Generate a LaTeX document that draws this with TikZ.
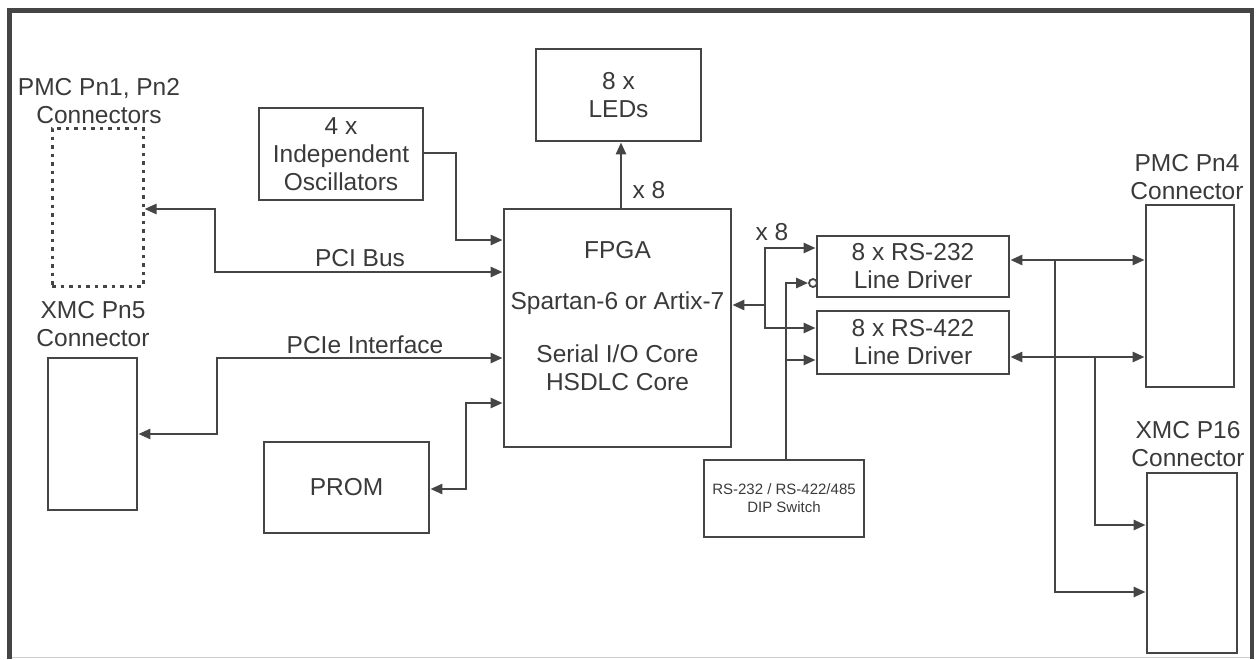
\documentclass[tikz,border=0pt]{standalone}
\usepackage{fontspec}
\setmainfont{Liberation Sans}
\usetikzlibrary{arrows.meta}
\definecolor{ln}{HTML}{454545}
\definecolor{tx}{HTML}{3a3a3a}
\tikzset{
  box/.style={draw=ln, line width=2.8pt, inner sep=0pt, text=tx, align=center,
    font=\fontsize{24.5}{28}\selectfont},
  lbl/.style={text=tx, align=center, inner sep=0pt, font=\fontsize{24.5}{28}\selectfont},
  small/.style={font=\fontsize{15}{18}\selectfont},
  wire/.style={draw=ln, line width=2.6pt},
  tip/.style={-{Triangle[length=12pt,width=10pt]}},
  dtip/.style={{Triangle[length=12pt,width=10pt]}-{Triangle[length=12pt,width=10pt]}},
}
\begin{document}
\begin{tikzpicture}[x=1pt,y=-1pt]
\useasboundingbox (0,0) rectangle (1259,659);
% frame
\draw[line width=1.5pt, draw=black!20] (9.5,657.5) -- (1252,657.5);
\draw[ln, line width=4.5pt] (9.5,659) -- (9.5,10.5) -- (1252,10.5) -- (1252,659);

% boxes
\node[box, line width=3pt, dash pattern=on 3.5pt off 5pt, minimum width=91, minimum height=158] (pmc12) at (97.5,207) {};
\node[box, minimum width=164, minimum height=92] (osc) at (341,154) {4 x\\Independent\\Oscillators};
\node[box, minimum width=165, minimum height=92] (leds) at (618.5,95) {8 x\\LEDs};
\node[box, minimum width=227, minimum height=238] (fpga) at (617.5,328) {};
\node[box, minimum width=89, minimum height=152] (xmc5) at (92.5,434) {};
\node[box, minimum width=165, minimum height=91] (prom) at (346.5,487.5) {PROM};
\node[box, minimum width=192, minimum height=61] (rs232) at (913,266.5) {8 x RS-232\\Line Driver};
\node[box, minimum width=192, minimum height=63] (rs422) at (913,342.5) {8 x RS-422\\Line Driver};
\node[box, small, minimum width=160, minimum height=77] (dip) at (784,498.5) {RS-232 / RS-422/485\\DIP Switch};
\node[box, minimum width=88, minimum height=182] (pn4) at (1190,296) {};
\node[box, minimum width=90, minimum height=180] (p16) at (1192,563) {};

% FPGA text
\node[lbl] (fpgat) at (617.5,250) {FPGA};
\node[lbl] (fpgas) at (617.5,303) {Spartan-6 or Artix-7};
\node[lbl] (fpgac) at (617.5,368) {Serial I/O Core\\HSDLC Core};

% labels
\node[lbl] (lpmc12) at (99,101) {PMC Pn1, Pn2\\Connectors};
\node[lbl] (lxmc5) at (93,324) {XMC Pn5\\Connector};
\node[lbl] (lpn4) at (1187,177.5) {PMC Pn4\\Connector};
\node[lbl] (lp16) at (1188,444.5) {XMC P16\\Connector};
\node[lbl] (lpci) at (360,258) {PCI Bus};
\node[lbl] (lpcie) at (365,345) {PCIe Interface};
\node[lbl] (lx8a) at (649,190) {x 8};
\node[lbl] (lx8b) at (772,232) {x 8};

% left connectors
\draw[wire, dtip] (fpga.west |- 0,272) -| (215,209) -- (pmc12.east |- 0,209);
\draw[wire, tip] (osc.east |- 0,153) -| (456,240) -- (fpga.west |- 0,240);
\draw[wire, dtip] (fpga.west |- 0,358) -| (217,434) -- (xmc5.east |- 0,434);
\draw[wire, dtip] (fpga.west |- 0,403) -| (466,489) -- (prom.east |- 0,489);
\draw[wire, tip] (fpga.north -| 621,0) -- (leds.south -| 621,0);

% right bus
\coordinate (j1) at (765,305);
\draw[wire, tip] (j1) -- (fpga.east |- j1);
\draw[wire, dtip] (rs232.west |- 0,248) -| (765,328) -- (rs422.west |- 0,328);
\node[draw=ln, line width=1.8pt, circle, inner sep=0pt, minimum size=8pt] (inv) at (813,283) {};
\draw[wire, tip] (dip.north -| 786,0) |- (inv.west);
\coordinate (j2) at (786,360);
\draw[wire, tip] (j2) -- (rs422.west |- j2);

\coordinate (j3) at (1055,260);
\coordinate (j4) at (1095,357);
\draw[wire, dtip] (rs232.east |- j3) -- (pn4.west |- j3);
\draw[wire, dtip] (rs422.east |- j4) -- (pn4.west |- j4);
\draw[wire, tip] (j3) |- (p16.west |- 0,592);
\draw[wire, tip] (j4) |- (p16.west |- 0,525);
\end{tikzpicture}
\end{document}
